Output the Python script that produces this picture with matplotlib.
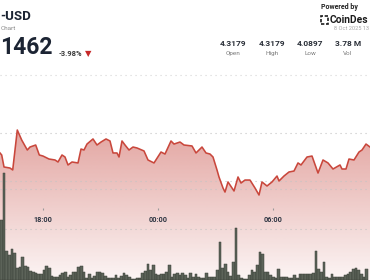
import matplotlib
matplotlib.use("Agg")
import matplotlib.pyplot as plt
from matplotlib.patches import Rectangle
from matplotlib.lines import Line2D
import numpy as np

plt.rcParams["font.family"] = ["Roboto", "DejaVu Sans"]

# ---------------------------------------------------------------- data
# price line: time in hours from 00:00 on 7 Oct (values > 24 are 8 Oct)
line_t = [15.757, 15.846, 15.966, 16.279, 16.420, 16.659, 16.889, 17.181, 17.322, 17.619,
          17.807, 18.000, 18.313, 18.626, 18.783, 18.991, 19.148, 19.304, 19.513, 19.826,
          19.983, 20.139, 20.295, 20.608, 20.817, 21.026, 21.287, 21.495, 21.652, 21.860,
          21.965, 22.121, 22.278, 22.486, 22.695, 22.904, 23.269, 23.477, 23.790, 24.156,
          24.364, 24.677, 24.834, 25.147, 25.355, 25.773, 25.981, 26.294, 26.503, 26.712,
          26.868, 27.077, 27.181, 27.390, 27.494, 27.651, 27.964, 28.173, 28.329, 28.537,
          28.798, 29.059, 29.268, 29.424, 29.685, 29.946, 30.207, 30.311, 30.572, 30.833,
          31.094, 31.302, 31.459, 31.772, 32.033, 32.346, 32.606, 32.867, 33.128, 33.493,
          33.597, 33.806, 33.962, 34.223, 34.484, 34.641, 34.850, 35.058]
line_p = [4.1292, 4.1271, 4.1146, 4.1135, 4.1115, 4.1531, 4.1427, 4.1323, 4.1354, 4.1375,
          4.1271, 4.1260, 4.1229, 4.1219, 4.1198, 4.1271, 4.1250, 4.1167, 4.1198, 4.1188,
          4.1333, 4.1323, 4.1385, 4.1438, 4.1375, 4.1406, 4.1438, 4.1417, 4.1292, 4.1292,
          4.1250, 4.1417, 4.1375, 4.1323, 4.1354, 4.1344, 4.1313, 4.1219, 4.1188, 4.1302,
          4.1281, 4.1417, 4.1385, 4.1406, 4.1375, 4.1365, 4.1292, 4.1354, 4.1292, 4.1281,
          4.1250, 4.1115, 4.1042, 4.0927, 4.0885, 4.0990, 4.0896, 4.1042, 4.0979, 4.1010,
          4.1010, 4.0927, 4.0854, 4.0990, 4.0948, 4.0990, 4.1052, 4.1000, 4.1052, 4.1094,
          4.1104, 4.1188, 4.1167, 4.1250, 4.1260, 4.1083, 4.1219, 4.1188, 4.1125, 4.1167,
          4.1125, 4.1125, 4.1229, 4.1219, 4.1302, 4.1323, 4.1385, 4.1354]

# volume bars (thousand tokens), one bar per interval starting at vol_start
vol_start = 15.757
vol_step = 0.1391
vol = [60, 107, 29, 25, 31, 27, 12, 13, 23, 14, 13, 9, 8, 7, 6, 6, 10, 14, 12, 4,
       3, 3, 5, 7, 8, 3, 5, 8, 8, 13, 14, 8, 2, 6, 2, 4, 8, 8, 7, 4,
       2, 2, 2, 5, 2, 4, 7, 5, 3, 1, 1, 2, 2, 7, 9, 16, 10, 15, 6, 5,
       6, 6, 8, 15, 3, 6, 7, 5, 7,
       5, 2, 7, 3, 6, 3, 2, 2, 7, 3, 3, 3, 10, 38, 12, 16, 8, 4, 18, 52,
       5, 2, 1, 1, 5, 10, 8, 15, 28, 26, 8, 8, 5, 3, 2, 11, 3, 3, 3, 2,
       2, 5, 2, 6, 6, 6, 6, 6, 7, 29, 11, 8, 18, 3, 2, 6, 3, 3, 3, 3,
       5, 6, 8, 11, 12, 10, 6, 3, 11]

price_grid = [4.05, 4.10, 4.15]
vol_grid = [91]
tick_hours = [18, 24, 30]
stat_values = ["4.3179", "4.3179", "4.0897", "3.78 M"]
stat_labels = ["Open", "High", "Low", "Vol"]

RED = "#c9473c"
W, H = 370, 280
def px(x, y):
    return x / W, 1 - y / H

fig = plt.figure(figsize=(3.7, 2.8), dpi=100)
fig.patch.set_facecolor("white")

# ---------------------------------------------------------------- price layer (fill)
ax = fig.add_axes([0, 0, 1, 1])
xlim = (15.757, 35.058)
ylim = (3.99688, 4.28854)
ax.set_xlim(*xlim); ax.set_ylim(*ylim)
ax.set_facecolor("none")
for s in ax.spines.values():
    s.set_visible(False)
ax.set_yticks([])

rgb = np.array(matplotlib.colors.to_rgb("#c9524a"))
rows = np.linspace(0, 1, 300)           # 0 = bottom, 1 = top of axes
alpha = np.clip(0.06 + rows / (160 / 280) * 0.49, 0, 0.62)
grad = np.zeros((300, 1, 4)); grad[..., :3] = rgb; grad[:, 0, 3] = alpha
im = ax.imshow(grad, extent=[xlim[0], xlim[1], ylim[0], ylim[1]], origin="lower",
               aspect="auto", zorder=1, interpolation="bilinear")
poly = ax.fill_between(line_t, line_p, ylim[0], color="none", lw=0)
im.set_clip_path(poly.get_paths()[0], transform=ax.transData)

for p in price_grid:
    ax.axhline(p, color="#c4c4c4", lw=0.8, ls=(0, (1, 3.5)), zorder=2)

ax.spines["bottom"].set_position(("axes", 72 / 280))
ax.set_xticks(tick_hours, [f"{h % 24:02d}:00" for h in tick_hours], fontweight="bold")
ax.tick_params(axis="x", length=1.5, width=0.8, color="#9a9a9a", pad=4.5,
               labelsize=5.2, labelcolor="#2b3340")

# ---------------------------------------------------------------- volume layer
ax2 = ax.twinx()
ax2.set_ylim(0, 280)
ax2.axis("off")
for v in vol_grid:
    ax2.axhline(v, color="#c4c4c4", lw=0.8, ls=(0, (1, 3.5)), zorder=1)
vol_t = vol_start + (np.arange(len(vol)) + 0.5) * vol_step
ax2.bar(vol_t, vol, width=vol_step * 0.92, color="#5c6359", edgecolor="#3a3f38",
        linewidth=0.35, zorder=2)

# ---------------------------------------------------------------- line layer
ax3 = ax.twinx()
ax3.set_ylim(*ylim)
ax3.axis("off")
ax3.plot(line_t, line_p, color=RED, lw=1.15, solid_joinstyle="round")

# ---------------------------------------------------------------- header
fig.add_artist(Line2D([0, 1], [1 - 75 / H] * 2, color="#d6d6d6", lw=0.8, ls=(0, (1, 3.5))))
fig.text(*px(0, 17), "-USD", fontsize=9.5, fontweight="bold", color="#1c2433", va="center")
fig.text(*px(0.5, 28), "Chart", fontsize=4.6, color="#8a8a8a", va="center")
fig.text(*px(0.5, 47), "1462", fontsize=16.5, fontweight="bold", color="#1c2433",
         va="center")
fig.text(*px(59, 54), "-3.98%", fontsize=5.4, fontweight="bold", color="#3a3a3a", va="center")
fig.text(*px(88.5, 54), "▼", fontsize=6, color="#c62828", va="center", ha="center",
         family="DejaVu Sans")

fig.text(*px(321, 7), "Powered by", fontsize=5, fontweight="bold", color="#222222", va="center")
fig.add_artist(Rectangle(px(321, 24), 7 / W, 8 / H, transform=fig.transFigure, fill=False,
                         ec="#1c1c1c", lw=1.2, ls=(0, (2, 1))))
fig.text(*px(330, 20), "CoinDes", fontsize=7.4, fontweight="bold", color="#1c1c1c", va="center")
fig.text(*px(369, 29), "8 Oct 2025 13", fontsize=4.1, color="#a8a8a8", va="center", ha="right")

for cx, val, lab in zip([233, 272, 310, 348], stat_values, stat_labels):
    fig.text(*px(cx, 44), val, fontsize=6, fontweight="bold", color="#2a2f38",
             va="center", ha="center")
    fig.text(*px(cx, 53.5), lab, fontsize=4.6, color="#7a7a7a", va="center", ha="center")

fig.savefig("out.png", dpi=100)
